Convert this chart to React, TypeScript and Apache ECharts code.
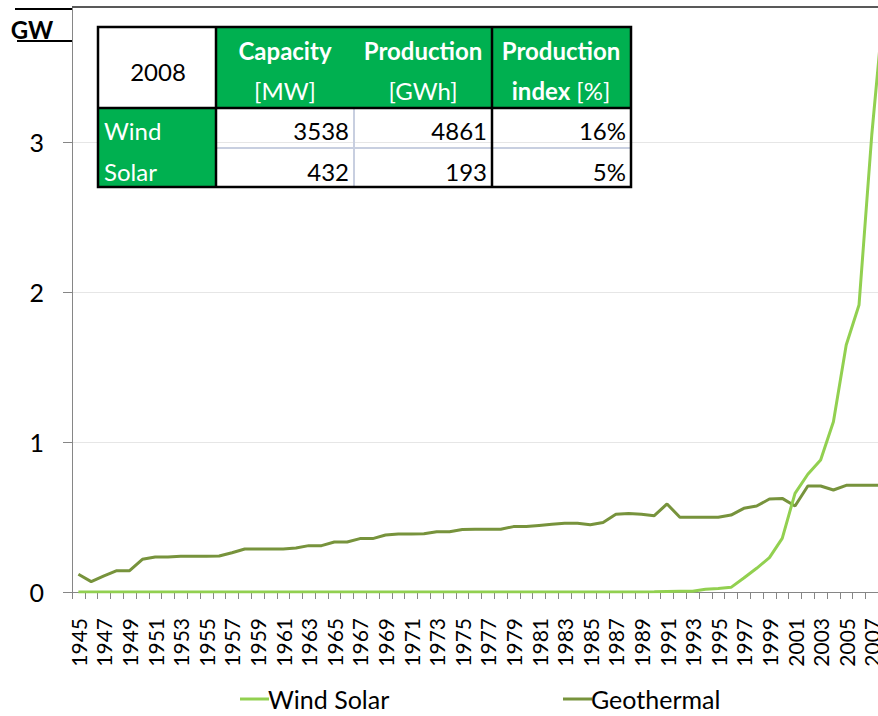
import React, { useEffect, useRef } from "react";
import * as echarts from "echarts";

const years = [
  "1945","1946","1947","1948","1949","1950","1951","1952","1953","1954",
  "1955","1956","1957","1958","1959","1960","1961","1962","1963","1964",
  "1965","1966","1967","1968","1969","1970","1971","1972","1973","1974",
  "1975","1976","1977","1978","1979","1980","1981","1982","1983","1984",
  "1985","1986","1987","1988","1989","1990","1991","1992","1993","1994",
  "1995","1996","1997","1998","1999","2000","2001","2002","2003","2004",
  "2005","2006","2007","2008",
];

const windSolar = [
  0, 0, 0, 0, 0, 0, 0, 0, 0, 0,
  0, 0, 0, 0, 0, 0, 0, 0, 0, 0,
  0, 0, 0, 0, 0, 0, 0, 0, 0, 0,
  0, 0, 0, 0, 0, 0, 0, 0, 0, 0,
  0, 0, 0, 0, 0, 0.001, 0.004, 0.005, 0.005, 0.018,
  0.024, 0.031, 0.093, 0.158, 0.229, 0.358, 0.658, 0.785, 0.88, 1.135,
  1.647, 1.913, 3.05, 3.97,
];

const geothermal = [
  0.118, 0.069, 0.107, 0.142, 0.142, 0.218, 0.233, 0.233, 0.238, 0.238,
  0.238, 0.24, 0.262, 0.287, 0.287, 0.287, 0.287, 0.293, 0.309, 0.309,
  0.333, 0.333, 0.356, 0.356, 0.38, 0.387, 0.387, 0.389, 0.402, 0.402,
  0.416, 0.418, 0.418, 0.418, 0.436, 0.436, 0.444, 0.451, 0.458, 0.458,
  0.449, 0.464, 0.518, 0.524, 0.518, 0.509, 0.587, 0.498, 0.498, 0.498,
  0.498, 0.513, 0.558, 0.573, 0.62, 0.624, 0.573, 0.707, 0.707, 0.68,
  0.711, 0.711, 0.711, 0.711,
];

const yTicks = [0, 1, 2, 3];

const tableYear = "2008";
const tableRowNames = ["Wind", "Solar"];
const capacityMW = [3538, 432];
const productionGWh = [4861, 193];
const productionIndexPct = [16, 5];

const FONT = "Lato";
const GREEN = "#00B050";

function txt(text: string, x: number, y: number, opts: any = {}) {
  const align = opts.align || "center";
  return {
    type: "text",
    x,
    y,
    z: 20,
    style: {
      text,
      fill: opts.fill || "#000",
      font: `${opts.bold ? "bold " : ""}${opts.size || 24}px ${FONT}`,
      align,
      verticalAlign: "middle",
      textAlign: align,
      textVerticalAlign: "middle",
      rich: opts.rich,
    },
  };
}

function ln(x1: number, y1: number, x2: number, y2: number, stroke: string, w: number) {
  return {
    type: "line",
    z: 21,
    shape: { x1, y1, x2, y2 },
    style: { stroke, lineWidth: w },
  };
}

export default function App() {
  const ref = useRef<HTMLDivElement>(null);
  useEffect(() => {
    if (!ref.current) return;
    const chart = echarts.init(ref.current, undefined, { renderer: "svg" });

    const colX = [98, 216, 354, 492, 631];
    const rowY = [27, 108, 148, 187];
    const rowMid = [130, 171];
    const white = "#FFFFFF";

    const graphic: any[] = [
      ln(72, 7, 891, 7, "#595959", 2),
      ln(15, 9, 72, 9, "#000", 2),
      ln(17, 41, 72, 41, "#000", 2),
      txt("GW", 32, 29, { bold: true, size: 24 }),
      {
        type: "rect",
        z: 19,
        shape: { x: colX[1], y: rowY[0], width: colX[4] - colX[1], height: rowY[1] - rowY[0] },
        style: { fill: GREEN },
      },
      {
        type: "rect",
        z: 19,
        shape: { x: colX[0], y: rowY[1], width: colX[1] - colX[0], height: rowY[3] - rowY[1] },
        style: { fill: GREEN },
      },
      ln(colX[2], rowY[1], colX[2], rowY[3], "#C8CFE0", 2),
      ln(colX[1], rowY[2], colX[4], rowY[2], "#C8CFE0", 2),
      {
        type: "rect",
        z: 22,
        shape: { x: colX[0], y: rowY[0], width: colX[4] - colX[0], height: rowY[3] - rowY[0] },
        style: { fill: "none", stroke: "#000", lineWidth: 2.5 },
      },
      { ...ln(colX[1], rowY[0], colX[1], rowY[3], "#000", 2.5), z: 22 },
      { ...ln(colX[3], rowY[0], colX[3], rowY[3], "#000", 2.5), z: 22 },
      { ...ln(colX[0], rowY[1], colX[4], rowY[1], "#000", 2.5), z: 22 },
      txt(tableYear, 158, 71, { size: 24 }),
      txt("Capacity", 285, 50, { bold: true, fill: white }),
      txt("[MW]", 285, 90, { fill: white }),
      txt("Production", 423, 50, { bold: true, fill: white }),
      txt("[GWh]", 423, 90, { fill: white }),
      txt("Production", 561, 50, { bold: true, fill: white }),
      txt("{b|index} {n|[%]}", 561, 90, {
        fill: white,
        rich: {
          b: { fill: white, font: `bold 24px ${FONT}` },
          n: { fill: white, font: `24px ${FONT}` },
        },
      }),
    ];

    tableRowNames.forEach((name, i) => {
      graphic.push(txt(name, 104, rowMid[i], { align: "left", fill: white }));
      graphic.push(txt(String(capacityMW[i]), 349, rowMid[i], { align: "right" }));
      graphic.push(txt(String(productionGWh[i]), 487, rowMid[i], { align: "right" }));
      graphic.push(txt(productionIndexPct[i] + "%", 626, rowMid[i], { align: "right" }));
    });

    const legendText = {
      fontFamily: FONT,
      fontSize: 25,
      color: "#000",
      lineHeight: 28,
      padding: [0, 0, 0, -6],
    };

    chart.setOption({
      animation: false,
      grid: { left: 72, top: 7, right: 0, bottom: 124, containLabel: false },
      xAxis: {
        type: "category",
        data: years,
        boundaryGap: true,
        axisLine: { show: true, lineStyle: { color: "#868686", width: 1 } },
        axisTick: { show: true, interval: 0, length: 7, lineStyle: { color: "#868686" } },
        axisLabel: {
          interval: 1,
          rotate: 90,
          margin: 26,
          color: "#000",
          fontFamily: FONT,
          fontSize: 21,
        },
        splitLine: { show: false },
      },
      yAxis: {
        type: "value",
        min: 0,
        max: 3.9,
        interval: 1,
        axisLine: { show: true, lineStyle: { color: "#868686", width: 1 } },
        axisTick: { show: true, length: 9, lineStyle: { color: "#868686" } },
        axisLabel: {
          margin: 28,
          color: "#000",
          fontFamily: FONT,
          fontSize: 25,
          showMaxLabel: false,
          formatter: (v: number) => (yTicks.indexOf(v) >= 0 ? String(v) : ""),
        },
        splitLine: { show: true, lineStyle: { color: "#E6E6E6", width: 1 } },
      },
      legend: [
        {
          data: ["Wind Solar"],
          left: 235,
          top: 680,
          icon: "rect",
          itemWidth: 29,
          itemHeight: 3,
          itemGap: 0,
          textStyle: legendText,
        },
        {
          data: ["Geothermal"],
          left: 558,
          top: 680,
          icon: "rect",
          itemWidth: 29,
          itemHeight: 3,
          itemGap: 0,
          textStyle: legendText,
        },
      ],
      series: [
        {
          name: "Wind Solar",
          type: "line",
          data: windSolar,
          symbol: "none",
          showSymbol: false,
          z: 3,
          color: "#92D050",
          lineStyle: { color: "#92D050", width: 3 },
        },
        {
          name: "Geothermal",
          type: "line",
          data: geothermal,
          symbol: "none",
          showSymbol: false,
          z: 2,
          color: "#77933C",
          lineStyle: { color: "#77933C", width: 3 },
        },
      ],
      graphic,
    });

    return () => chart.dispose();
  }, []);

  return (
    <div
      style={{
        position: "absolute",
        left: 0,
        top: 0,
        width: 878,
        height: 716,
        overflow: "hidden",
        background: "#fff",
      }}
    >
      <div ref={ref} style={{ width: 891, height: 716 }} />
    </div>
  );
}
